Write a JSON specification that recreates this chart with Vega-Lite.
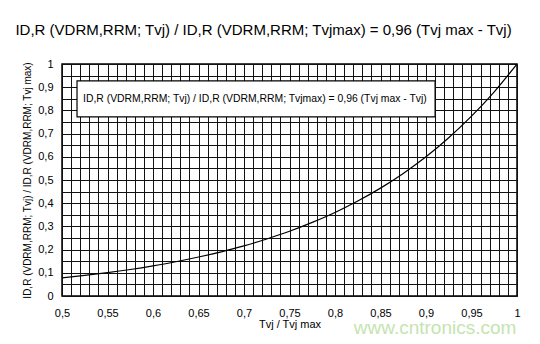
{
  "$schema": "https://vega.github.io/schema/vega-lite/v6.json",
  "width": 455,
  "height": 232,
  "autosize": "none",
  "padding": {"left": 62, "top": 64, "right": 23, "bottom": 48},
  "background": "white",
  "config": {
    "font": "Liberation Sans",
    "view": {"stroke": "black", "strokeWidth": 1.5}
  },
  "title": {
    "text": "ID,R (VDRM,RRM; Tvj) / ID,R (VDRM,RRM; Tvjmax) = 0,96 (Tvj max - Tvj)",
    "fontSize": 15,
    "fontWeight": "normal",
    "color": "black",
    "anchor": "middle",
    "dx": -26,
    "offset": 20
  },
  "data": {
    "values": [
      {"x": 0.5, "y": 0.078},
      {"x": 0.525, "y": 0.0886},
      {"x": 0.55, "y": 0.1006},
      {"x": 0.575, "y": 0.1143},
      {"x": 0.6, "y": 0.13},
      {"x": 0.625, "y": 0.1476},
      {"x": 0.65, "y": 0.168},
      {"x": 0.675, "y": 0.1905},
      {"x": 0.7, "y": 0.216},
      {"x": 0.725, "y": 0.2458},
      {"x": 0.75, "y": 0.279},
      {"x": 0.775, "y": 0.3172},
      {"x": 0.8, "y": 0.36},
      {"x": 0.825, "y": 0.4094},
      {"x": 0.85, "y": 0.465},
      {"x": 0.875, "y": 0.5284},
      {"x": 0.9, "y": 0.6},
      {"x": 0.925, "y": 0.682},
      {"x": 0.95, "y": 0.775},
      {"x": 0.975, "y": 0.8802},
      {"x": 1.0, "y": 1.0}
    ]
  },
  "layer": [
    {
      "mark": {"type": "line", "color": "black", "strokeWidth": 1.2, "interpolate": "monotone", "clip": true},
      "encoding": {
        "x": {
          "field": "x",
          "type": "quantitative",
          "scale": {"domain": [0.5, 1], "nice": false, "zero": false},
          "axis": {
            "values": [0.5,0.51,0.52,0.53,0.54,0.55,0.56,0.57,0.58,0.59,0.6,0.61,0.62,0.63,0.64,0.65,0.66,0.67,0.68,0.69,0.7,0.71,0.72,0.73,0.74,0.75,0.76,0.77,0.78,0.79,0.8,0.81,0.82,0.83,0.84,0.85,0.86,0.87,0.88,0.89,0.9,0.91,0.92,0.93,0.94,0.95,0.96,0.97,0.98,0.99,1.0],
            "tickCount": 200,
            "labelExpr": "round(datum.value*100)%5==0 ? replace(format(datum.value,'~g'),'.',',') : ''",
            "labelFontSize": 11,
            "labelColor": "black",
            "labelPadding": 11,
            "labelFlush": false,
            "labelOverlap": false,
            "ticks": false,
            "domain": false,
            "grid": true,
            "gridColor": "#111111",
            "gridWidth": 1,
            "gridOpacity": 1,
            "title": "Tvj / Tvj max",
            "titleFontSize": 11,
            "titleFontWeight": "normal",
            "titleColor": "black",
            "titlePadding": 0
          }
        },
        "y": {
          "field": "y",
          "type": "quantitative",
          "scale": {"domain": [0, 1], "nice": false},
          "axis": {
            "values": [0,0.05,0.1,0.15,0.2,0.25,0.3,0.35,0.4,0.45,0.5,0.55,0.6,0.65,0.7,0.75,0.8,0.85,0.9,0.95,1.0],
            "tickCount": 200,
            "labelExpr": "round(datum.value*100)%10==0 ? replace(format(datum.value,'~g'),'.',',') : ''",
            "labelFontSize": 11,
            "labelColor": "black",
            "labelPadding": 9,
            "labelFlush": false,
            "labelOverlap": false,
            "ticks": false,
            "domain": false,
            "grid": true,
            "gridColor": "#111111",
            "gridWidth": 1,
            "gridOpacity": 1,
            "title": "ID,R (VDRM,RRM; Tvj) / ID,R (VDRM,RRM; Tvj max)",
            "titleFontSize": 10,
            "titleFontWeight": "normal",
            "titleColor": "black",
            "titlePadding": 5
          }
        }
      }
    },
    {
      "data": {"values": [{}]},
      "mark": {"type": "rect", "fill": "white", "stroke": "black", "strokeWidth": 1.2},
      "encoding": {
        "x": {"datum": 0.5165},
        "x2": {"datum": 0.91},
        "y": {"datum": 0.927},
        "y2": {"datum": 0.772}
      }
    },
    {
      "data": {"values": [{}]},
      "mark": {"type": "text", "text": "ID,R (VDRM,RRM; Tvj) / ID,R (VDRM,RRM; Tvjmax) = 0,96 (Tvj max - Tvj)", "fontSize": 10.4, "color": "black", "align": "center", "baseline": "middle"},
      "encoding": {
        "x": {"datum": 0.712},
        "y": {"datum": 0.85}
      }
    },
    {
      "data": {"values": [{}]},
      "mark": {"type": "text", "text": "www.cntronics.com", "fontSize": 19, "color": "#c5e4b0", "align": "center", "baseline": "middle", "clip": false},
      "encoding": {
        "x": {"datum": 0.91},
        "y": {"datum": -0.138}
      }
    }
  ]
}
